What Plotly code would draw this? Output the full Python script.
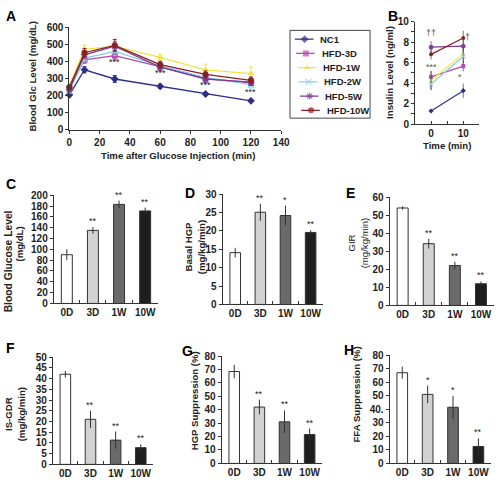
import plotly.graph_objects as go

W, H = 504, 485

# ---------------- Panel A: glucose tolerance ----------------
time_A = [0, 10, 30, 60, 90, 120]
nc1_A = [205, 352, 298, 255, 210, 170]
hfd3d_A = [245, 410, 435, 370, 300, 275]
hfd1w_A = [262, 472, 490, 425, 352, 330]
hfd2w_A = [230, 420, 460, 375, 308, 265]
hfd5w_A = [238, 440, 490, 368, 298, 280]
hfd10w_A = [250, 452, 495, 382, 325, 290]
nc1_A_err = [12, 18, 20, 12, 6, 6]
hfd3d_A_err = [15, 20, 25, 20, 20, 15]
hfd1w_A_err = [20, 25, 30, 15, 33, 38]
hfd2w_A_err = [15, 20, 25, 20, 20, 20]
hfd5w_A_err = [15, 20, 25, 20, 20, 20]
hfd10w_A_err = [15, 25, 35, 20, 20, 20]
sig_A_x = [30, 60, 90, 120]
sig_A_y = [398, 335, 262, 222]
sig_A_text = ["***", "***", "***", "***"]

# ---------------- Panel B: insulin ----------------
time_B = [0, 10]
nc1_B = [1.27, 3.25]
hfd3d_B = [4.6, 5.65]
hfd1w_B = [4.25, 6.85]
hfd2w_B = [3.9, 6.6]
hfd5w_B = [7.5, 7.6]
hfd10w_B = [6.8, 8.4]
nc1_B_err = [0.15, 0.7]
hfd3d_B_err = [0.6, 0.5]
hfd1w_B_err = [0.9, 0.8]
hfd2w_B_err = [0.6, 0.8]
hfd5w_B_err = [0.6, 0.6]
hfd10w_B_err = [0.5, 0.7]
sig_B_x = [0, 11.3, 0, 9]
sig_B_y = [8.9, 8.45, 5.6, 4.6]
sig_B_text = ["††", "†", "***", "*"]

series_names = ["NC1", "HFD-3D", "HFD-1W", "HFD-2W", "HFD-5W", "HFD-10W"]

# ---------------- Bar panels C-H ----------------
bar_cats = ["0D", "3D", "1W", "10W"]
glucose_C = [90, 135, 183, 171]
glucose_C_err = [10, 6, 7, 6]
glucose_C_sig = ["", "**", "**", "**"]
hgp_D = [14.1, 25.1, 24.2, 19.6]
hgp_D_err = [1.3, 2.3, 2.7, 0.6]
hgp_D_sig = ["", "**", "*", "**"]
gir_E = [54, 34.2, 22.1, 12]
gir_E_err = [1, 2.7, 2.1, 1.3]
gir_E_sig = ["", "**", "**", "**"]
isgdr_F = [42, 21, 11.3, 7.8]
isgdr_F_err = [1.5, 4, 4, 1.5]
isgdr_F_sig = ["", "**", "**", "**"]
hgpsup_G = [68.5, 42, 31, 21.5]
hgpsup_G_err = [5, 5.5, 8.5, 4.5]
hgpsup_G_sig = ["", "**", "**", "**"]
ffasup_H = [67, 51, 41.5, 12.5]
ffasup_H_err = [4.5, 6.5, 8.5, 6]
ffasup_H_sig = ["", "*", "*", "**"]

# ---------------- styles ----------------
FONT = "Liberation Sans, Arial, sans-serif"
INK = "#222222"
line_colors = ["#2E2E8A", "#B548B5", "#F0E442", "#86CFE3", "#7A3A96", "#8A1F24"]
symbols = ["diamond", "square", "triangle-up", "x-thin", "asterisk", "circle"]
bar_fill = ["#ffffff", "#d2d2d2", "#6a6a6a", "#1e1e1e"]


def px_x(x):
    return x / W


def px_y(y):
    return 1 - y / H


def dom_x(a, b):
    return [a / W, b / W]


def dom_y(top, bot):
    return [1 - bot / H, 1 - top / H]


tickfont = dict(family=FONT, size=10, color=INK, weight="bold")
axis_common = dict(showline=True, linecolor="#333333", linewidth=1, showgrid=False,
                   zeroline=False, ticks="outside", ticklen=3, tickcolor="#333333",
                   tickfont=tickfont, fixedrange=True, tickangle=0)

fig = go.Figure()
annotations = []
shapes = []


def marker_for(i, size):
    sym = symbols[i]
    c = line_colors[i]
    if sym == "asterisk":
        return dict(symbol="asterisk-open", size=size, color=c, line=dict(color=c, width=1.2))
    if sym == "x-thin":
        return dict(symbol="x-thin-open", size=size, color=c, line=dict(color=c, width=1.2))
    return dict(symbol=sym, size=size, color=c, line=dict(width=0))


# Panel A traces
A_vals = [nc1_A, hfd3d_A, hfd1w_A, hfd2w_A, hfd5w_A, hfd10w_A]
A_errs = [nc1_A_err, hfd3d_A_err, hfd1w_A_err, hfd2w_A_err, hfd5w_A_err, hfd10w_A_err]
for i, (vals, errs) in enumerate(zip(A_vals, A_errs)):
    fig.add_trace(go.Scatter(
        x=time_A, y=vals, mode="lines+markers", name=series_names[i],
        line=dict(color=line_colors[i], width=1.3), marker=marker_for(i, 6),
        error_y=dict(type="data", array=errs, color=line_colors[i], thickness=1, width=2),
        xaxis="x", yaxis="y", cliponaxis=False, showlegend=False))
for sx, sy, st in zip(sig_A_x, sig_A_y, sig_A_text):
    annotations.append(dict(x=sx, y=sy, xref="x", yref="y", text=st, showarrow=False,
                            font=dict(family=FONT, size=9, color=INK)))

# Panel B traces
B_vals = [nc1_B, hfd3d_B, hfd1w_B, hfd2w_B, hfd5w_B, hfd10w_B]
B_errs = [nc1_B_err, hfd3d_B_err, hfd1w_B_err, hfd2w_B_err, hfd5w_B_err, hfd10w_B_err]
for i, (vals, errs) in enumerate(zip(B_vals, B_errs)):
    fig.add_trace(go.Scatter(
        x=time_B, y=vals, mode="lines+markers", name=series_names[i],
        line=dict(color=line_colors[i], width=1.2), marker=marker_for(i, 4),
        error_y=dict(type="data", array=errs, color="#555555", thickness=0.8, width=0),
        xaxis="x2", yaxis="y2", cliponaxis=False, showlegend=False))
for sx, sy, st in zip(sig_B_x, sig_B_y, sig_B_text):
    annotations.append(dict(x=sx, y=sy, xref="x2", yref="y2", text=st, showarrow=False,
                            font=dict(family=FONT, size=9, color="#555555")))

# Legend drawn on a hidden axis pair (index 9)
for i in range(len(series_names)):
    yy = 9 + 14.6 * i
    off = 1.3 * i
    mk = marker_for(i, 6)
    mk["size"] = [0, 6, 0]
    fig.add_trace(go.Scatter(
        x=[5 + off, 15 + off, 24 + off], y=[yy, yy, yy], mode="lines+markers",
        line=dict(color=line_colors[i], width=1.3), marker=mk,
        xaxis="x9", yaxis="y9", showlegend=False, hoverinfo="skip"))
    annotations.append(dict(x=29 + off, y=yy, xref="x9", yref="y9", text=series_names[i],
                            showarrow=False, xanchor="left",
                            font=dict(family=FONT, size=9.5, color=INK, weight="bold")))
shapes.append(dict(type="rect", xref="paper", yref="paper", x0=px_x(294), x1=px_x(376),
                   y0=px_y(115), y1=px_y(25), line=dict(color="#444444", width=1)))

# Bar panels
bar_panels = [
    (3, glucose_C, glucose_C_err, glucose_C_sig),
    (4, hgp_D, hgp_D_err, hgp_D_sig),
    (5, gir_E, gir_E_err, gir_E_sig),
    (6, isgdr_F, isgdr_F_err, isgdr_F_sig),
    (7, hgpsup_G, hgpsup_G_err, hgpsup_G_sig),
    (8, ffasup_H, ffasup_H_err, ffasup_H_sig),
]
for idx, vals, errs, sigs in bar_panels:
    fig.add_trace(go.Bar(
        x=bar_cats, y=vals, width=0.42,
        marker=dict(color=bar_fill, line=dict(color="#333333", width=1)),
        error_y=dict(type="data", array=errs, color="#333333", thickness=1, width=0),
        xaxis=f"x{idx}", yaxis=f"y{idx}", showlegend=False))
    for c, v, e, s in zip(bar_cats, vals, errs, sigs):
        if s:
            annotations.append(dict(x=c, y=v + e, xref=f"x{idx}", yref=f"y{idx}", text=s,
                                    showarrow=False, yanchor="bottom", yshift=-1,
                                    font=dict(family=FONT, size=9, color=INK)))

# ---------------- axes ----------------
layout_axes = {}
layout_axes["xaxis"] = dict(axis_common, domain=dom_x(68, 285), anchor="y", range=[0, 140],
                            dtick=20, tick0=0)
layout_axes["yaxis"] = dict(axis_common, domain=dom_y(22, 127), anchor="x", range=[0, 600],
                            dtick=100)
layout_axes["xaxis2"] = dict(axis_common, domain=dom_x(422, 488), anchor="y2", range=[-5, 15],
                             tickvals=[-5, 0, 5, 10, 15], ticktext=["", "0", "", "10", ""],
                             ticks="inside")
layout_axes["yaxis2"] = dict(axis_common, domain=dom_y(16, 121), anchor="x2", range=[0, 10],
                             tickvals=list(range(0, 11)),
                             ticktext=[str(v) if v % 2 == 0 else "" for v in range(0, 11)])
bar_domains = {
    3: (dom_x(52, 159), dom_y(194, 305), [0, 200], 20),
    4: (dom_x(225, 328), dom_y(193, 306), [0, 30], 5),
    5: (dom_x(396, 503), dom_y(196, 307), [0, 60], 10),
    6: (dom_x(51, 154), dom_y(360, 470), [0, 50], 5),
    7: (dom_x(224, 327), dom_y(359, 469), [0, 80], 10),
    8: (dom_x(396, 500), dom_y(358, 469), [0, 80], 10),
}
for idx, (dx, dy, yr, dt) in bar_domains.items():
    layout_axes[f"xaxis{idx}"] = dict(axis_common, domain=dx, anchor=f"y{idx}", type="category",
                                      range=[-0.5, 3.5], tickson="boundaries", ticks="inside",
                                      ticklen=3)
    yax = dict(axis_common, domain=dy, anchor=f"x{idx}", range=yr, dtick=dt, tick0=0)
    if idx == 8:
        yax.update(tickvals=list(range(0, 81, 10)),
                   ticktext=["0", "10", "20", "30", "40.", "50", "60", "70", "80"])
        yax.pop("dtick")
    layout_axes[f"yaxis{idx}"] = yax
layout_axes["xaxis9"] = dict(domain=dom_x(294, 376), anchor="y9", range=[0, 82], visible=False,
                             fixedrange=True)
layout_axes["yaxis9"] = dict(domain=dom_y(25, 115), anchor="x9", range=[90, 0], visible=False,
                             fixedrange=True)

# ---------------- axis titles & panel letters ----------------
title_font = dict(family=FONT, size=9.6, color=INK, weight="bold")


def ann_px(x, y, text, angle=0, font=title_font, xanchor="center", yanchor="middle"):
    annotations.append(dict(x=px_x(x), y=px_y(y), xref="paper", yref="paper", text=text,
                            textangle=angle, showarrow=False, font=font,
                            xanchor=xanchor, yanchor=yanchor))


ann_px(30, 72, "Blood Glc Level (mg/dL)", -90)
ann_px(179, 153, "Time after Glucose Injection (min)")
ann_px(396, 68, "Insulin Level (ng/ml)", -90)
ann_px(455, 143, "Time (min)")
ann_px(6, 262, "Blood Glucose Level", -90,
       font=dict(family=FONT, size=10.3, color=INK, weight="bold"))
ann_px(17, 244, "(mg/dL)", -90)
ann_px(197, 247, "Basal HGP<br>(mg/kg/min)", -90)
ann_px(364, 243, "GIR<br>(mg/kg/min)", -90,
       font=dict(family=FONT, size=9.6, color=INK))
ann_px(12, 419, "IS-GDR<br>(mg/kg/min)", -90)
ann_px(197, 405, "HGP Suppression (%)", -90)
ann_px(362, 398, "FFA Suppression (%)", -90)

letter_font = dict(family=FONT, size=14, color="#000000", weight="bold")
for lx, ly, lt in [(1, 0, "A"), (392, 0, "B"), (1, 172, "C"), (184, 182, "D"),
                   (349, 182, "E"), (1, 340, "F"), (181, 344, "G"), (347, 342, "H")]:
    ann_px(lx, ly, lt, font=letter_font, xanchor="left", yanchor="top")

fig.update_layout(
    width=W, height=H, margin=dict(l=0, r=0, t=0, b=0),
    paper_bgcolor="white", plot_bgcolor="white",
    showlegend=False, bargap=0.5,
    annotations=annotations, shapes=shapes,
    **layout_axes,
)

fig.write_html("out.html", config={"displayModeBar": False},
               post_script="document.body.style.margin='0';document.body.style.overflow='hidden';")
